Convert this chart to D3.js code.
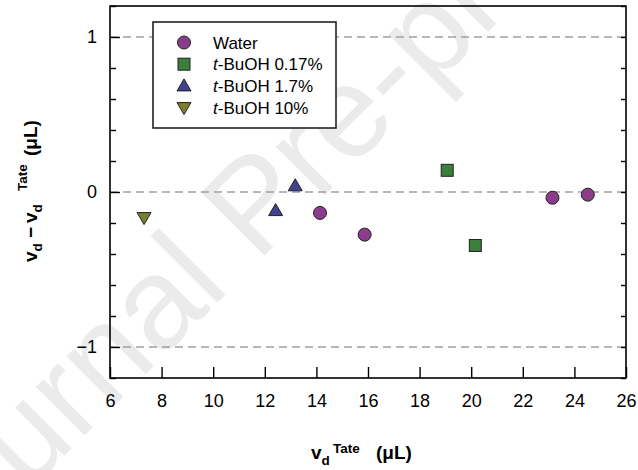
<!DOCTYPE html>
<html><head><meta charset="utf-8">
<script src="https://cdn.jsdelivr.net/npm/d3@7"></script>
<style>body{margin:0;background:#fff}svg{display:block}</style>
</head><body>
<svg id="c" width="638" height="470"></svg>
<script>
const xTicks = [6,8,10,12,14,16,18,20,22,24,26];
const yMajor = [-1,0,1];
const yMinor = [-1.2,-0.8,-0.6,-0.4,-0.2,0.2,0.4,0.6,0.8,1.2];
const gridLines = [-1,0,1];

const waterX = [14.14, 15.87, 23.15, 24.52];
const waterY = [-0.135, -0.275, -0.037, -0.017];
const b017X = [19.07, 20.16];
const b017Y = [0.14, -0.345];
const b17X = [12.42, 13.18];
const b17Y = [-0.12, 0.04];
const b10X = [7.32];
const b10Y = [-0.165];

const seriesNames = ["Water", "t-BuOH 0.17%", "t-BuOH 1.7%", "t-BuOH 10%"];
const seriesColors = ["#8a3d8a", "#3b7f3b", "#42428f", "#7c7c33"];
const seriesShapes = ["circle", "square", "triangle", "triangleDown"];

const svg = d3.select("#c");
const L = 110, R = 626, T = 6, B = 378;
const x = d3.scaleLinear().domain([6, 26]).range([L, R]);
const y = d3.scaleLinear().domain([-1.2, 1.2]).range([B, T]);
const font = "Liberation Sans, Arial, sans-serif";

// watermark
svg.append("text")
  .attr("transform", "translate(-70,590) rotate(-45)")
  .attr("font-family", font)
  .attr("font-size", 130)
  .attr("fill", "#ebebeb")
  .text("Journal Pre-proof");

// gridlines
svg.selectAll(".grid").data(gridLines).enter().append("line")
  .attr("x1", L).attr("x2", R)
  .attr("y1", d => y(d)).attr("y2", d => y(d))
  .attr("stroke", "#a0a0a0").attr("stroke-width", 1.4)
  .attr("stroke-dasharray", "8,5");

// axes
const xAxis = d3.axisBottom(x).tickValues(xTicks).tickSizeInner(-11).tickSizeOuter(0).tickPadding(16);
svg.append("g").attr("transform", `translate(0,${B})`).call(xAxis);
const yAxis = d3.axisLeft(y).tickValues(yMajor).tickSizeInner(-10).tickSizeOuter(0).tickPadding(13).tickFormat(d3.format("d"));
svg.append("g").attr("transform", `translate(${L},0)`).call(yAxis);
const yMin = d3.axisLeft(y).tickValues(yMinor).tickSizeInner(-6).tickSizeOuter(0).tickFormat("");
svg.append("g").attr("transform", `translate(${L},0)`).call(yMin);
const yR = d3.axisRight(y).tickValues(yMajor.concat(yMinor)).tickSizeInner(-5).tickSizeOuter(0).tickFormat("");
svg.append("g").attr("transform", `translate(${R},0)`).call(yR);

svg.selectAll(".domain").remove();
svg.selectAll(".tick line").attr("stroke", "#000").attr("stroke-width", 1.4);
svg.selectAll(".tick text").attr("font-family", font).attr("font-size", 18).attr("fill", "#000");

svg.append("rect").attr("x", L).attr("y", T).attr("width", R - L).attr("height", B - T)
  .attr("fill", "none").attr("stroke", "#000").attr("stroke-width", 1.6);

// symbols
function drawMarker(g, shape, cx, cy, color) {
  if (shape === "circle") {
    g.append("circle").attr("cx", cx).attr("cy", cy).attr("r", 6.5)
      .attr("fill", color).attr("stroke", "#222").attr("stroke-width", 1);
  } else if (shape === "square") {
    g.append("rect").attr("x", cx - 6).attr("y", cy - 6).attr("width", 12).attr("height", 12)
      .attr("fill", color).attr("stroke", "#222").attr("stroke-width", 1);
  } else if (shape === "triangle") {
    g.append("path").attr("d", `M${cx},${cy - 7}L${cx + 7},${cy + 5}L${cx - 7},${cy + 5}Z`)
      .attr("fill", color).attr("stroke", "#222").attr("stroke-width", 1);
  } else {
    g.append("path").attr("d", `M${cx},${cy + 7}L${cx + 7},${cy - 5}L${cx - 7},${cy - 5}Z`)
      .attr("fill", color).attr("stroke", "#222").attr("stroke-width", 1);
  }
}

const seriesData = [
  [waterX, waterY], [b017X, b017Y], [b17X, b17Y], [b10X, b10Y]
];
const pts = svg.append("g");
seriesData.forEach((s, i) => {
  s[0].forEach((xv, j) => drawMarker(pts, seriesShapes[i], x(xv), y(s[1][j]), seriesColors[i]));
});

// legend
const lg = svg.append("g");
lg.append("rect").attr("x", 153).attr("y", 22).attr("width", 183).attr("height", 106)
  .attr("fill", "#fff").attr("stroke", "#222").attr("stroke-width", 1.6);
seriesNames.forEach((n, i) => {
  const cy = 42.5 + i * 21.7;
  drawMarker(lg, seriesShapes[i], 184, cy, seriesColors[i]);
  const t = lg.append("text").attr("x", 213).attr("y", cy + 6)
    .attr("font-family", font).attr("font-size", 17).attr("fill", "#000");
  if (n.startsWith("t-")) {
    t.append("tspan").attr("font-style", "italic").text("t");
    t.append("tspan").text(n.slice(1));
  } else t.text(n);
});

// x title
const xt = svg.append("text").attr("font-family", font).attr("font-size", 19)
  .attr("font-weight", "bold").attr("fill", "#000");
xt.append("tspan").attr("x", 311).attr("y", 459).text("v");
xt.append("tspan").attr("font-size", 13.5).attr("y", 465).text("d");
xt.append("tspan").attr("font-size", 13.5).attr("x", 333).attr("y", 453).text("Tate");
xt.append("tspan").attr("x", 376).attr("y", 459).text("(μL)");

// y title
const yt = svg.append("text").attr("transform", "translate(37,262) rotate(-90)")
  .attr("font-family", font).attr("font-size", 19).attr("font-weight", "bold").attr("fill", "#000");
yt.append("tspan").attr("x", 0).attr("y", 0).text("v");
yt.append("tspan").attr("font-size", 13.5).attr("y", 5).text("d");
yt.append("tspan").attr("x", 24).attr("y", 0).text("−");
yt.append("tspan").attr("x", 39).attr("y", 0).text("v");
yt.append("tspan").attr("font-size", 13.5).attr("y", 5).text("d");
yt.append("tspan").attr("font-size", 13.5).attr("x", 71).attr("y", -10).text("Tate");
yt.append("tspan").attr("x", 106).attr("y", 0).text("(μL)");
</script>
</body></html>
